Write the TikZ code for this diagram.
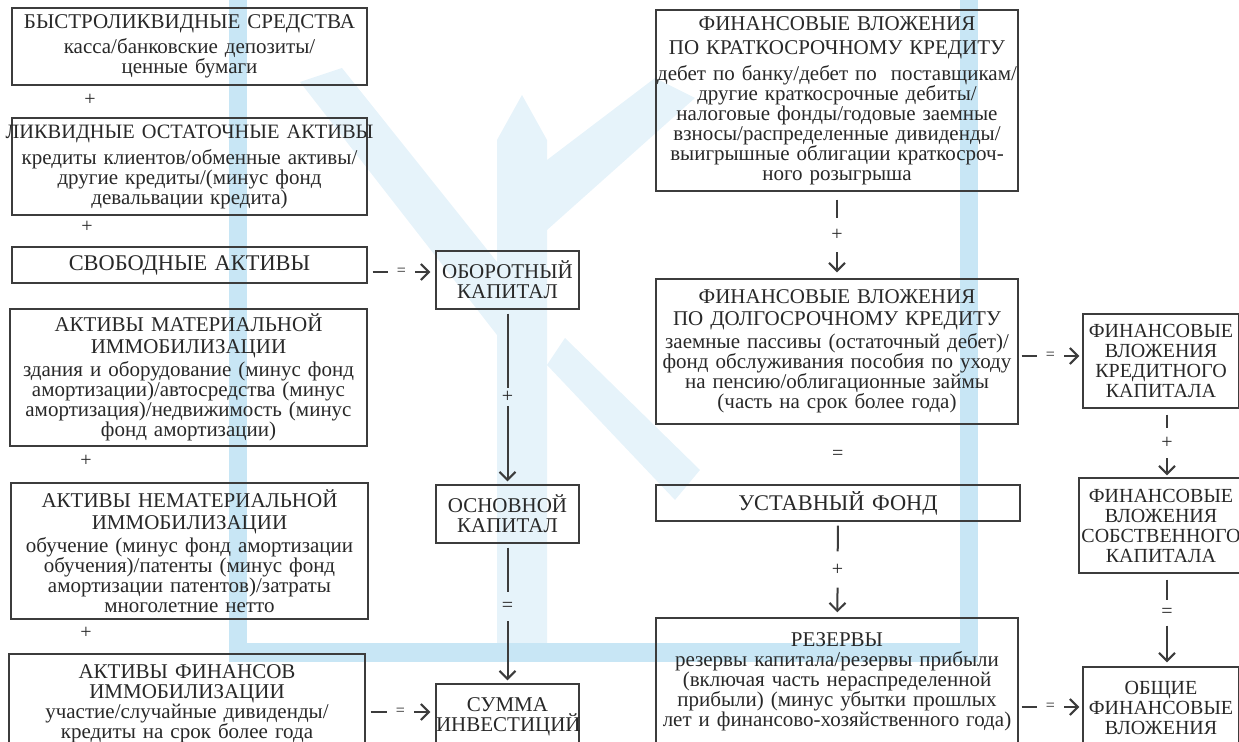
\documentclass[tikz,border=0pt]{standalone}
\usepackage{fontspec}
\setmainfont{Liberation Serif}
\usetikzlibrary{arrows.meta}
\definecolor{ink}{RGB}{40,40,40}
\definecolor{rule}{RGB}{60,60,60}
\definecolor{wmblue}{RGB}{200,230,245}
\definecolor{wmpale}{RGB}{230,243,250}
\tikzset{
  blk/.style={draw=rule, line width=0.7pt, rectangle, inner sep=0pt, align=center,
    text=ink, font=\fontsize{10.5}{10}\selectfont},
  bigblk/.style={blk, font=\fontsize{11.2}{11}\selectfont},
  capblk/.style={blk, font=\fontsize{10}{10}\selectfont},
  sgn/.style={text=ink, inner sep=0pt, font=\fontsize{10}{10}\selectfont},
  op/.style={sgn, inner xsep=2pt, inner ysep=#1},
  op/.default=2pt,
  eq/.style={sgn, font=\fontsize{8}{8}\selectfont, inner xsep=4.5pt},
  link/.style={draw=rule, line width=1pt},
  arr/.style={link, -{Straight Barb[length=4pt,width=8pt]}},
}
\begin{document}
\begin{tikzpicture}[x=0.5pt, y=-0.5pt]
	\clip (0,0) rectangle (1239,742);
	% watermark
	\fill[wmpale] (497,140) -- (522,95) -- (547,140) -- (547,643) -- (497,643) -- cycle;
	\fill[wmpale] (300,82) -- (342,68) -- (497,262) -- (497,335) -- cycle;
	\fill[wmpale] (547,160) -- (655,78) -- (695,98) -- (547,230) -- cycle;
	\fill[wmpale] (547,365) -- (565,338) -- (700,470) -- (675,500) -- cycle;
	\fill[wmblue] (229,0) rectangle (247,662);
	\fill[wmblue] (229,643) rectangle (978,662);
	\fill[wmblue] (960,0) rectangle (978,662);

	% left column
	\node [blk, minimum width=177.5pt, minimum height=38.5pt, text width=177.5pt] (L1) at (189.5,46.5)
		{БЫСТРОЛИКВИДНЫЕ СРЕДСТВА\\[2.5pt]касса/банковские депозиты/\\ценные бумаги};
	\node [blk, minimum width=177.5pt, minimum height=48.5pt, text width=177.5pt] (L2) at (189.5,166.5)
		{\hbox to \linewidth{\hss\fontsize{10.2}{10}\selectfont ЛИКВИДНЫЕ ОСТАТОЧНЫЕ АКТИВЫ\hss}\\[3pt]кредиты клиентов/обменные активы/\\другие кредиты/(минус фонд\\девальвации кредита)};
	\node [bigblk, minimum width=177.5pt, minimum height=18pt, text width=177.5pt] (L3) at (189.5,265)
		{СВОБОДНЫЕ АКТИВЫ};
	\node [blk, minimum width=178.5pt, minimum height=68.5pt, text width=178.5pt] (L4) at (188.5,377.5)
		{АКТИВЫ МАТЕРИАЛЬНОЙ\\[1pt]ИММОБИЛИЗАЦИИ\\[1.5pt]здания и оборудование (минус фонд\\амортизации)/автосредства (минус\\амортизация)/недвижимость (минус\\фонд амортизации)};
	\node [blk, minimum width=178.5pt, minimum height=68pt, text width=178.5pt] (L5) at (189.5,551)
		{АКТИВЫ НЕМАТЕРИАЛЬНОЙ\\[1pt]ИММОБИЛИЗАЦИИ\\[1.5pt]обучение (минус фонд амортизации\\обучения)/патенты (минус фонд\\амортизации патентов)/затраты\\многолетние нетто};
	\node [blk, minimum width=178pt, minimum height=50pt, text width=178pt] (L6) at (187,704)
		{АКТИВЫ ФИНАНСОВ\\ИММОБИЛИЗАЦИИ\\участие/случайные дивиденды/\\кредиты на срок более года};
	\node [sgn] (p1) at (90,100) {+};
	\node [sgn] (p2) at (87,227) {+};
	\node [sgn] (p3) at (86,461) {+};
	\node [sgn] (p4) at (86,633) {+};

	% middle column
	\node [blk, minimum width=71.5pt, minimum height=29pt, text width=71.5pt] (M1) at (507.5,280)
		{ОБОРОТНЫЙ\\КАПИТАЛ};
	\node [blk, minimum width=71.5pt, minimum height=29pt, text width=71.5pt] (M2) at (507.5,514)
		{ОСНОВНОЙ\\КАПИТАЛ};
	\node [blk, minimum width=71.5pt, minimum height=33pt, text width=71.5pt] (M3) at (507.5,717)
		{СУММА\\ИНВЕСТИЦИЙ};

	% liabilities column
	\node [blk, minimum width=181pt, minimum height=90.5pt, text width=181pt] (R1) at (837,100.5)
		{ФИНАНСОВЫЕ ВЛОЖЕНИЯ\\[2pt]ПО КРАТКОСРОЧНОМУ КРЕДИТУ\\[3pt]дебет по банку/дебет по\ \ поставщикам/\\другие краткосрочные дебиты/\\налоговые фонды/годовые заемные\\взносы/распределенные дивиденды/\\выигрышные облигации краткосроч-\\ного розыгрыша};
	\node [blk, minimum width=181pt, minimum height=72.5pt, text width=181pt] (R2) at (837,351.5)
		{ФИНАНСОВЫЕ ВЛОЖЕНИЯ\\[1pt]ПО ДОЛГОСРОЧНОМУ КРЕДИТУ\\[1.5pt]заемные пассивы (остаточный дебет)/\\фонд обслуживания пособия по уходу\\на пенсию/облигационные займы\\(часть на срок более года)};
	\node [bigblk, minimum width=182pt, minimum height=18pt, text width=182pt] (R3) at (838,503)
		{УСТАВНЫЙ ФОНД};
	\node [blk, minimum width=181pt, minimum height=64pt, text width=181pt] (R4) at (837,682)
		{РЕЗЕРВЫ\\резервы капитала/резервы прибыли\\(включая часть нераспределенной\\прибыли) (минус убытки прошлых\\лет и финансово-хозяйственного года)};

	% right column
	\node [capblk, minimum width=78pt, minimum height=47pt, text width=78pt] (F1) at (1161,361)
		{ФИНАНСОВЫЕ\\ВЛОЖЕНИЯ\\КРЕДИТНОГО\\КАПИТАЛА};
	\node [capblk, minimum width=82pt, minimum height=47.5pt, text width=82pt] (F2) at (1161,525.5)
		{ФИНАНСОВЫЕ\\ВЛОЖЕНИЯ\\СОБСТВЕННОГО\\КАПИТАЛА};
	\node [capblk, minimum width=78pt, minimum height=40.5pt, text width=78pt] (F3) at (1161,707.5)
		{ОБЩИЕ\\ФИНАНСОВЫЕ\\ВЛОЖЕНИЯ};

	% vertical links
	\path (M1) -- node [op=1.5pt] (j1) {+} (M2);
	\draw [link, shorten <=2pt] (M1) -- (j1);
	\draw [arr, shorten >=1.5pt] (j1) -- (M2);
	\path (M2) -- node [op=5pt, pos=.45] (j2) {=} (M3);
	\draw [link, shorten <=2pt] (M2) -- (j2);
	\draw [arr, shorten >=1.5pt] (j2) -- (M3);
	\path (R1) -- node [op=5.5pt] (j3) {+} (R2);
	\draw [link, shorten <=4pt] (R1) -- (j3);
	\draw [arr, shorten >=3pt] (j3) -- (R2);
	\path (R2) -- node [sgn] (j4) {=} (R3);
	\path (R3) -- node [op=6pt] (j5) {+} (R4);
	\draw [link, shorten <=2pt] (R3) -- (j5);
	\draw [arr, shorten >=2.5pt] (j5) -- (R4);
	\path ([xshift=3pt]F1.south) -- node [op=4.5pt] (j6) {+} ([xshift=3pt]F2.north);
	\draw [link, shorten <=3pt] ([xshift=3pt]F1.south) -- (j6);
	\draw [arr, shorten >=1pt] (j6) -- ([xshift=3pt]F2.north);
	\path ([xshift=3pt]F2.south) -- node [op=4pt, pos=.42] (j7) {=} ([xshift=3pt]F3.north);
	\draw [link, shorten <=3pt] ([xshift=3pt]F2.south) -- (j7);
	\draw [arr, shorten >=2pt] (j7) -- ([xshift=3pt]F3.north);

	% horizontal links
	\path ([yshift=-3.5pt]L3.east) -- node [eq] (h1) {=} ([yshift=-3.5pt]L3.east -| M1.west);
	\draw [link, shorten <=2.5pt] ([yshift=-3.5pt]L3.east) -- (h1);
	\draw [arr, shorten >=2.5pt] (h1) -- ([yshift=-3.5pt]L3.east -| M1.west);
	\path ([yshift=-4pt]L6.east) -- node [eq] (h2) {=} ([yshift=-4pt]L6.east -| M3.west);
	\draw [link, shorten <=2.5pt] ([yshift=-4pt]L6.east) -- (h2);
	\draw [arr, shorten >=2.5pt] (h2) -- ([yshift=-4pt]L6.east -| M3.west);
	\path ([yshift=-2.25pt]R2.east) -- node [eq] (h3) {=} ([yshift=-2.25pt]R2.east -| F1.west);
	\draw [link, shorten <=1.5pt] ([yshift=-2.25pt]R2.east) -- (h3);
	\draw [arr, shorten >=1.5pt] (h3) -- ([yshift=-2.25pt]R2.east -| F1.west);
	\path ([yshift=-12.5pt]R4.east) -- node [eq] (h4) {=} ([yshift=-12.5pt]R4.east -| F3.west);
	\draw [link, shorten <=1.5pt] ([yshift=-12.5pt]R4.east) -- (h4);
	\draw [arr, shorten >=1.5pt] (h4) -- ([yshift=-12.5pt]R4.east -| F3.west);
\end{tikzpicture}
\end{document}
